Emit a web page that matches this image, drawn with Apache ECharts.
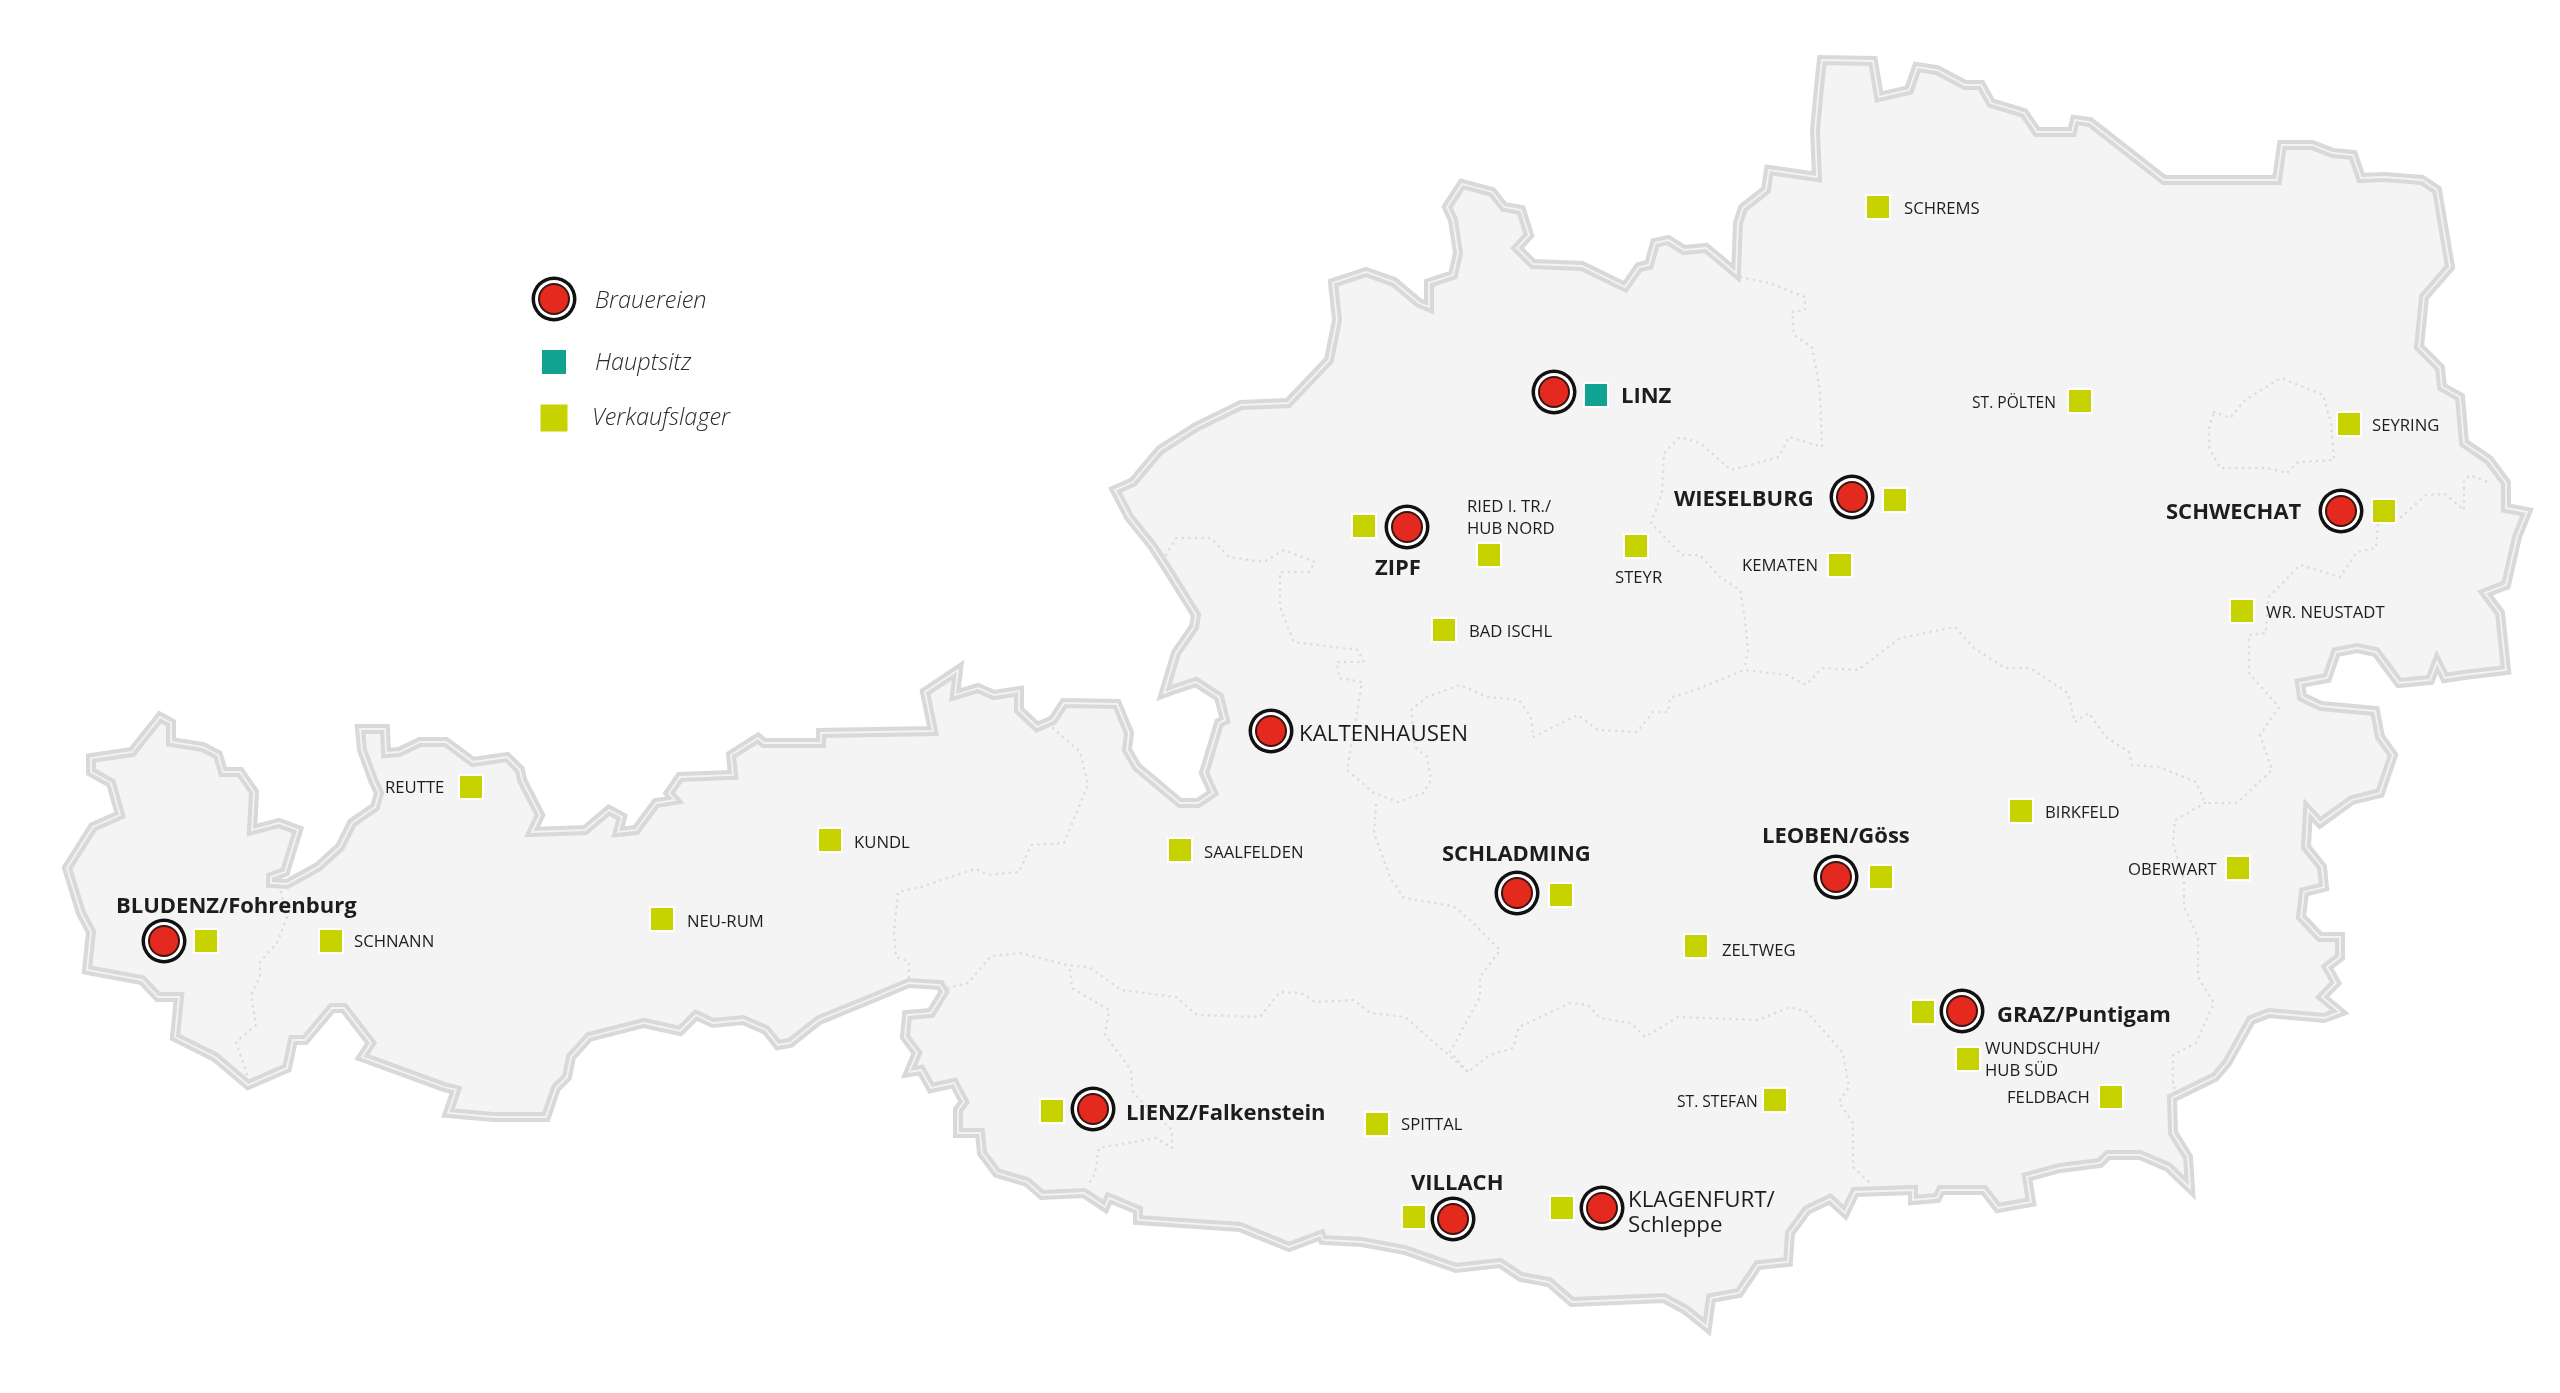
<!DOCTYPE html>
<html>
<head>
    <meta charset="utf-8">
    <title>Standorte Österreich</title>
    <script src="https://cdn.jsdelivr.net/npm/echarts@6/dist/echarts.min.js"></script>
    <style>
        html, body { margin: 0; height: 100%; background: #fff; }
        #main { width: 100%; height: 100%; position: absolute; }
    </style>
</head>
<body>
<div id="main"></div>
<script>
    // country outline, clockwise from the tip of Vorarlberg
    var outline = [[160,717],[171,723],[171,742],[203,747],[218,755],[223,772],[240,772],[254,792],[252,830],[279,823],[298,830],[285,872],[271,877],[271,883],[287,884],[318,867],[340,847],[352,823],[375,807],[379,793],[373,780],[362,750],[360,729],[385,729],[386,753],[399,752],[420,742],[446,742],[473,762],[507,757],[520,770],[522,780],[540,815],[532,832],[585,830],[609,810],[622,817],[618,832],[636,830],[656,803],[675,800],[669,793],[680,777],[733,775],[731,755],[758,738],[764,743],[821,743],[821,733],[933,731],[925,692],[958,670],[955,695],[978,688],[994,695],[1019,691],[1019,710],[1037,727],[1053,720],[1064,703],[1117,704],[1129,733],[1127,750],[1137,767],[1180,803],[1198,803],[1213,793],[1204,773],[1211,750],[1219,723],[1225,720],[1219,697],[1196,682],[1172,690],[1164,693],[1176,653],[1194,627],[1196,615],[1166,567],[1153,547],[1129,517],[1115,490],[1133,482],[1160,450],[1196,427],[1241,405],[1288,403],[1329,360],[1337,320],[1333,283],[1366,272],[1394,282],[1419,303],[1429,307],[1429,283],[1453,275],[1458,253],[1453,220],[1447,207],[1462,184],[1492,192],[1504,207],[1521,210],[1529,235],[1517,248],[1533,264],[1582,266],[1625,287],[1639,267],[1649,265],[1655,243],[1668,240],[1684,250],[1706,248],[1736,273],[1738,223],[1743,208],[1766,190],[1769,170],[1817,177],[1815,130],[1820,77],[1822,60],[1873,61],[1879,97],[1909,90],[1917,67],[1937,70],[1965,85],[1981,85],[1991,103],[2024,113],[2037,132],[2072,132],[2075,120],[2090,122],[2164,180],[2277,180],[2282,145],[2312,145],[2333,153],[2353,155],[2361,178],[2384,177],[2422,180],[2437,190],[2450,267],[2424,297],[2419,347],[2440,368],[2442,387],[2460,397],[2464,443],[2489,460],[2506,483],[2506,508],[2527,512],[2517,537],[2506,585],[2485,593],[2500,613],[2506,670],[2464,675],[2445,678],[2437,662],[2430,680],[2399,683],[2376,652],[2357,648],[2336,652],[2327,678],[2300,683],[2302,697],[2321,706],[2375,711],[2380,737],[2393,755],[2380,793],[2352,800],[2320,823],[2308,810],[2306,847],[2322,867],[2324,887],[2304,892],[2301,917],[2320,937],[2340,937],[2340,957],[2327,967],[2336,983],[2322,997],[2340,1012],[2324,1018],[2269,1013],[2251,1020],[2227,1063],[2215,1077],[2172,1098],[2173,1133],[2188,1157],[2190,1188],[2168,1167],[2140,1155],[2108,1155],[2100,1163],[2060,1168],[2027,1177],[2031,1202],[1998,1208],[1984,1190],[1941,1190],[1937,1198],[1913,1200],[1913,1190],[1855,1192],[1845,1213],[1830,1199],[1807,1210],[1790,1233],[1788,1262],[1758,1265],[1739,1293],[1711,1298],[1707,1327],[1686,1310],[1664,1298],[1572,1302],[1549,1282],[1521,1277],[1500,1263],[1456,1268],[1405,1250],[1362,1242],[1323,1240],[1321,1235],[1289,1247],[1240,1227],[1138,1220],[1138,1210],[1109,1198],[1105,1207],[1084,1193],[1042,1195],[1027,1182],[997,1173],[982,1153],[980,1133],[958,1133],[958,1110],[964,1102],[954,1083],[931,1088],[921,1070],[909,1072],[917,1053],[905,1037],[907,1015],[931,1013],[944,992],[940,985],[909,983],[868,1000],[819,1020],[790,1043],[778,1045],[766,1030],[743,1020],[713,1023],[696,1015],[680,1031],[644,1023],[589,1037],[571,1057],[567,1077],[556,1088],[546,1117],[493,1117],[448,1113],[456,1090],[444,1087],[362,1057],[371,1043],[344,1008],[332,1008],[305,1040],[293,1040],[287,1068],[248,1085],[215,1057],[175,1037],[179,997],[158,997],[142,980],[87,970],[91,932],[81,913],[67,868],[93,827],[120,815],[111,783],[91,772],[91,758],[132,752]];

    // state borders (dotted)
    var borderVorarlberg = [[281,892],[287,917],[277,943],[260,962],[260,977],[251,995],[256,1025],[236,1042],[248,1077]];
    var borderTirolSalzburg = [[1053,728],[1080,752],[1088,785],[1064,843],[1031,845],[1019,872],[988,875],[976,869],[962,873],[921,887],[898,892],[894,933],[896,957],[909,962],[909,980]];
    var borderKaernten = [[948,988],[968,983],[991,956],[1021,953],[1066,965],[1089,967],[1121,990],[1176,997],[1197,1015],[1260,1017],[1280,992],[1301,993],[1315,1002],[1354,1000],[1370,1013],[1405,1017],[1468,1072],[1490,1055],[1513,1048],[1519,1027],[1570,1003],[1588,1005],[1600,1018],[1631,1023],[1645,1037],[1678,1017],[1758,1020],[1790,1007],[1807,1012],[1843,1053],[1849,1087],[1839,1102],[1853,1123],[1853,1167],[1872,1185]];
    var borderOsttirol = [[1070,970],[1072,988],[1109,1010],[1105,1035],[1131,1070],[1133,1093],[1172,1130],[1172,1148],[1156,1138],[1099,1148],[1095,1173],[1087,1187]];
    var borderLungau = [[1376,805],[1374,833],[1390,877],[1404,898],[1453,906],[1470,920],[1500,950],[1480,977],[1480,997],[1450,1052],[1468,1072]];
    var borderOberoesterreich = [[1166,555],[1176,538],[1211,538],[1229,557],[1264,562],[1284,550],[1315,562],[1309,572],[1280,572],[1280,607],[1294,642],[1358,650],[1364,662],[1337,662],[1339,678],[1362,682],[1358,707],[1351,747],[1347,770],[1374,793],[1398,802],[1423,793],[1431,780],[1427,757],[1415,747],[1411,710],[1427,697],[1460,685],[1488,697],[1519,700],[1531,717],[1533,737],[1578,715],[1598,730],[1637,732],[1653,712],[1668,712],[1670,698],[1700,688],[1744,670],[1787,675],[1806,685],[1822,668],[1858,670],[1900,638],[1955,627],[1974,648],[2005,668],[2030,668],[2068,693],[2075,722],[2089,713],[2106,737],[2129,752],[2132,765],[2159,767],[2196,782],[2205,803]];
    var borderNiederoesterreich = [[1741,277],[1769,283],[1805,297],[1805,310],[1792,312],[1794,335],[1812,347],[1820,390],[1822,447],[1789,437],[1779,457],[1731,470],[1700,443],[1680,437],[1664,453],[1662,493],[1651,523],[1682,555],[1700,555],[1720,577],[1740,590],[1745,620],[1748,650],[1744,670]];
    var borderBurgenland = [[2205,803],[2175,820],[2173,843],[2184,880],[2184,907],[2198,937],[2198,977],[2214,1003],[2196,1043],[2173,1055],[2173,1087],[2182,1093]];
    var borderWienSued = [[2378,525],[2376,548],[2357,552],[2340,577],[2300,565],[2268,598],[2266,633],[2249,635],[2249,673],[2279,707],[2260,735],[2272,770],[2237,803],[2205,803]];
    var borderNeusiedl = [[2401,517],[2426,495],[2445,494],[2464,510],[2464,480],[2470,475],[2487,482]];
    var borderWien = [[2214,412],[2230,418],[2245,400],[2281,378],[2323,395],[2331,423],[2334,460],[2298,462],[2287,473],[2266,468],[2220,468],[2209,447],[2209,427],[2214,412]];
    var borders = [borderVorarlberg, borderTirolSalzburg, borderKaernten, borderOsttirol, borderLungau,
        borderOberoesterreich, borderNiederoesterreich, borderBurgenland, borderWienSued, borderNeusiedl, borderWien];

    // sites
    var breweries = [[164,941],[1271,731],[1407,527],[1554,392],[1852,497],[2341,511],[1836,877],[1517,893],[1962,1011],[1093,1109],[1453,1219],[1602,1208]];
    var headquarters = [[1596,395]];
    var warehouses = [[206,941],[331,941],[471,787],[662,919],[830,840],[1180,850],[1052,1111],[1377,1124],[1414,1217],[1696,946],[1923,1012],[1968,1059],[2111,1097],[1775,1100],[1562,1208],[1364,526],[1489,555],[1636,546],[1444,630],[1878,207],[2080,401],[2349,424],[1895,500],[2384,511],[1881,877],[1561,895],[2021,811],[2238,868],[1840,565],[2242,611]];

    // labels: text, x, y
    var boldLabels = [['BLUDENZ/Fohrenburg',116,905],['LINZ',1621,395],['ZIPF',1375,567],['WIESELBURG',1674,498],['SCHWECHAT',2166,511],['SCHLADMING',1442,853],['LEOBEN/Göss',1762,835],['GRAZ/Puntigam',1997,1014],['LIENZ/Falkenstein',1126,1112],['VILLACH',1411,1182]];
    var mediumLabels = [['KALTENHAUSEN',1299,733],['KLAGENFURT/\nSchleppe',1628,1212]];
    var smallLabels = [['REUTTE',385,787],['SCHNANN',354,941],['NEU-RUM',687,921],['KUNDL',854,842],['SAALFELDEN',1204,852],['BAD ISCHL',1469,631],['RIED I. TR./\nHUB NORD',1467,517],['STEYR',1615,577],['KEMATEN',1742,565],['SCHREMS',1904,208],['SEYRING',2372,425],['WR. NEUSTADT',2266,612],['BIRKFELD',2045,812],['OBERWART',2128,869],['ZELTWEG',1722,950],['WUNDSCHUH/\nHUB SÜD',1985,1059],['FELDBACH',2007,1097],['SPITTAL',1401,1124]];
    var tightLabels = [['ST. PÖLTEN',1972,402],['ST. STEFAN',1677,1101]];

    // legend
    var legendBrewery = [[554,299]];
    var legendHeadquarters = [[554,362]];
    var legendWarehouse = [[554,418]];
    var legendLabels = [['Brauereien',595,300],['Hauptsitz',595,362],['Verkaufslager',592,417]];

    var RED = '#e42a1f', TEAL = '#11a392', GREEN = '#c6d300', TEXT = '#1d1d1b';

    function ringLayer(points, size, color) {
        return { type: 'scatter', data: points, symbol: 'circle', symbolSize: size, silent: true,
            itemStyle: { color: color, opacity: 1 }, z: 5 };
    }
    function squareLayer(points, size, color, halo) {
        return { type: 'scatter', data: points, symbol: 'rect', symbolSize: size, silent: true,
            itemStyle: { color: color, opacity: 1, borderColor: '#fff', borderWidth: halo }, z: 4 };
    }
    function labelLayer(rows, font) {
        return {
            type: 'scatter', symbolSize: 0, silent: true, z: 6,
            itemStyle: { opacity: 1 },
            data: rows.map(function (r) { return { name: r[0], value: [r[1], r[2]] }; }),
            label: Object.assign({
                show: true, position: 'inside', align: 'left', verticalAlign: 'middle',
                color: TEXT, opacity: 1, fontFamily: '"Open Sans"', offset: [0, 1.5],
                formatter: function (p) { return p.name; }
            }, font)
        };
    }

    var allBreweries = breweries.concat(legendBrewery);

    var series = [{
        type: 'custom',
        silent: true,
        z: 1,
        data: [[0, 0]],
        renderItem: function (params, api) {
            var pts = outline.map(function (p) { return api.coord(p); });
            return {
                type: 'group',
                children: [
                    { type: 'polygon', shape: { points: pts }, style: { fill: '#f4f4f5', stroke: '#d9d9d9', lineWidth: 10, lineJoin: 'miter' } },
                    { type: 'polygon', shape: { points: pts }, style: { fill: 'none', stroke: '#f3f3f3', lineWidth: 1.8, lineJoin: 'miter' } }
                ]
            };
        }
    }];

    borders.forEach(function (b) {
        series.push({
            type: 'line', data: b, symbol: 'none', silent: true, z: 2,
            lineStyle: { color: '#dcdcdc', width: 2.6, type: [0.1, 6.5], cap: 'round' }
        });
    });

    series.push(
        squareLayer(warehouses, 24, GREEN, 2),
        squareLayer(headquarters, 24, TEAL, 2),
        squareLayer(legendHeadquarters, 24, TEAL, 0),
        squareLayer(legendWarehouse, 27, GREEN, 0),
        ringLayer(allBreweries, 45, '#111'),
        ringLayer(allBreweries, 38, '#fff'),
        ringLayer(allBreweries, 32, '#3a1512'),
        ringLayer(allBreweries, 28, RED),
        labelLayer(boldLabels, { fontSize: 22, fontWeight: 700 }),
        labelLayer(mediumLabels, { fontSize: 22.3, lineHeight: 25 }),
        labelLayer(smallLabels, { fontSize: 16.7, lineHeight: 22 }),
        labelLayer(tightLabels, { fontSize: 15.6 }),
        labelLayer(legendLabels, { fontSize: 23.5, fontStyle: 'italic', fontWeight: 300, color: '#2b2b2b' })
    );

    var myChart = echarts.init(document.getElementById('main'));
    myChart.setOption({
        backgroundColor: '#fff',
        animation: false,
        grid: { left: 0, right: 0, top: 0, bottom: 0 },
        xAxis: { type: 'value', min: 0, max: 2560, show: false },
        yAxis: { type: 'value', min: 0, max: 1393, inverse: true, show: false },
        series: series
    });
</script>
</body>
</html>
